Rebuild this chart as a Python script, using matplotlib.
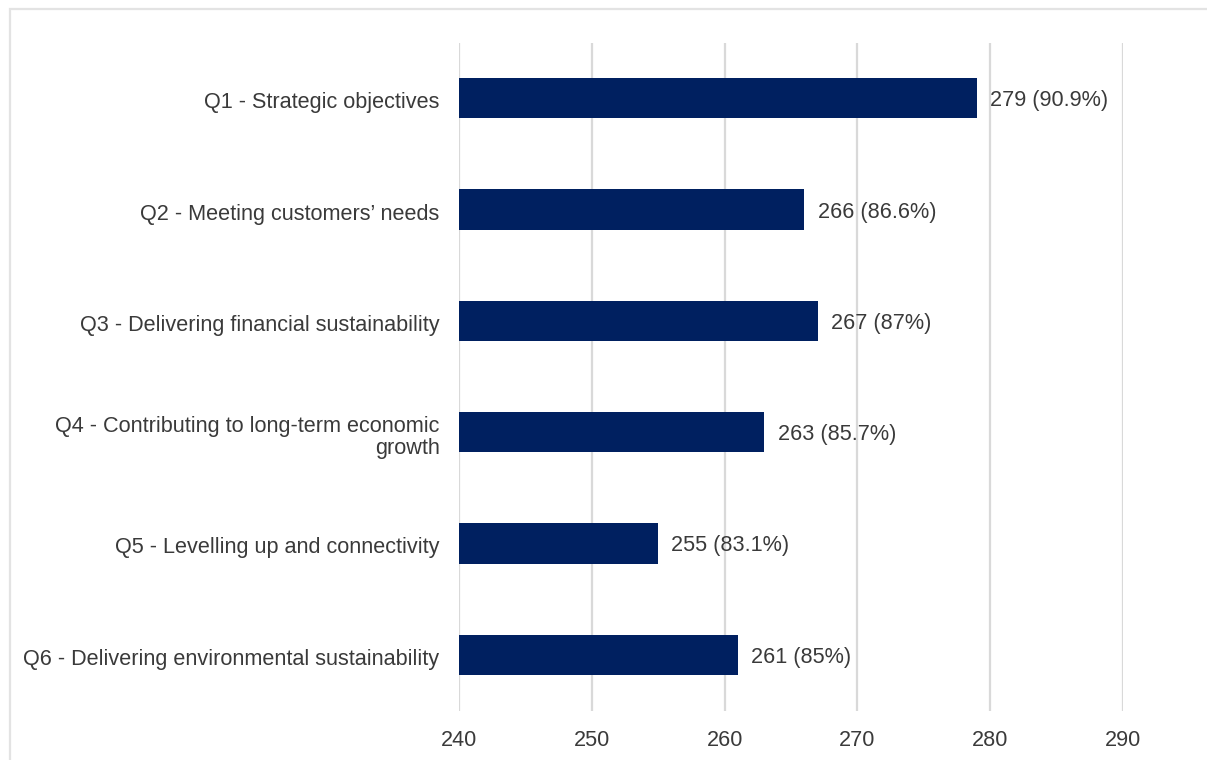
import matplotlib
matplotlib.use("Agg")
import matplotlib.pyplot as plt
from matplotlib.patches import Rectangle
import matplotlib.transforms as mtransforms

categories = [
    "Q1 - Strategic objectives",
    "Q2 - Meeting customers\u2019 needs",
    "Q3 - Delivering financial sustainability",
    "Q4 - Contributing to long-term economic\ngrowth",
    "Q5 - Levelling up and connectivity",
    "Q6 - Delivering environmental sustainability",
]
counts = [279, 266, 267, 263, 255, 261]
percents = ["90.9%", "86.6%", "87%", "85.7%", "83.1%", "85%"]
xticks = [240, 250, 260, 270, 280, 290]

plt.rcParams['font.family'] = ['Liberation Sans', 'DejaVu Sans']
text_color = '#3a3a3a'
fs = 15.6

W, H = 1207, 760
fig = plt.figure(figsize=(W / 100, H / 100), dpi=100)
fig.patch.set_facecolor('white')

# light grey frame of the chart area
fig.add_artist(Rectangle((9.5 / W, -0.05), 1.2, 1 - 9 / H + 0.05, transform=fig.transFigure,
                         fill=False, edgecolor='#e3e3e3', linewidth=1.6, zorder=0))

ax = fig.add_axes([459 / W, 1 - 710.5 / H, (1123 - 459) / W, (710.5 - 42.5) / H])
ypos = list(range(len(categories)))
ax.barh(ypos, [c - 240 for c in counts], left=240, height=0.36, color='#002060', zorder=3)

for y, c, p in zip(ypos, counts, percents):
    ax.text(c + 1.0, y, f"{c} ({p})", va='center_baseline', ha='left', fontsize=fs, color=text_color)

ax.set_xlim(240, 290)
ax.set_ylim(len(categories) - 0.5, -0.5)
ax.set_xticks(xticks)
ax.set_xticklabels([str(t) for t in xticks], fontsize=fs, color=text_color)
ax.set_yticks(ypos)
ax.set_yticklabels(categories, fontsize=fs, color=text_color, ha='right',
                   multialignment='right', linespacing=1.1)
ax.tick_params(axis='both', length=0)
ax.tick_params(axis='y', pad=14)
ax.tick_params(axis='x', pad=14)
ax.grid(axis='x', color='#d9d9d9', linewidth=1.6, zorder=0)
for s in ax.spines.values():
    s.set_visible(False)

offset = mtransforms.ScaledTranslation(0, -2 / 100, fig.dpi_scale_trans)
for lab in ax.get_yticklabels():
    lab.set_transform(lab.get_transform() + offset)

fig.savefig("out.png", dpi=100, facecolor='white')
